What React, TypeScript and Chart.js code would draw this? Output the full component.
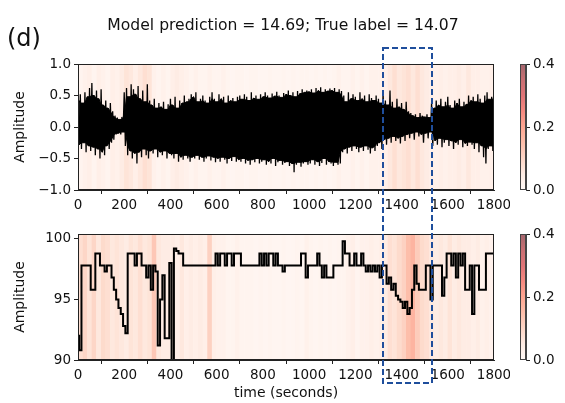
import React, { useEffect, useRef } from "react";
import { Chart, registerables } from "chart.js";
Chart.register(...registerables);

const FONT = "'DejaVu Sans', 'Noto Sans', sans-serif";

const titleText = "Model prediction = 14.69; True label = 14.07";
const panelLabel = "(d)";
const yLabel = "Amplitude";
const xLabel = "time (seconds)";

const xTicks = [0, 200, 400, 600, 800, 1000, 1200, 1400, 1600, 1800];
const topYTicks = [-1, -0.5, 0, 0.5, 1];
const bottomYTicks = [90, 95, 100];
const cbTicks = [0, 0.2, 0.4];

const sampleStep = 10; // seconds between samples
const stripeStep = 20; // seconds per attention stripe
const highlightStart = 1320;
const highlightEnd = 1532;

// upper / lower excursions of the raw waveform, every 10 s
const signalUpper = [
  0.45, 0.52, 0.38, 0.55, 0.48, 0.62, 0.70, 0.50, 0.58, 0.45,
  0.60, 0.35, 0.42, 0.30, 0.38, 0.25, 0.18, 0.15, 0.12, 0.16,
  0.55, 0.62, 0.48, 0.68, 0.60, 0.52, 0.65, 0.45, 0.58, 0.40,
  0.68, 0.42, 0.35, 0.45, 0.30, 0.38, 0.32, 0.40, 0.28, 0.36,
  0.45, 0.35, 0.48, 0.30, 0.42, 0.38, 0.50, 0.40, 0.45, 0.52,
  0.48, 0.55, 0.40, 0.45, 0.50, 0.42, 0.38, 0.48, 0.55, 0.45,
  0.40, 0.52, 0.45, 0.48, 0.38, 0.50, 0.42, 0.46, 0.40, 0.48,
  0.50, 0.44, 0.52, 0.48, 0.42, 0.55, 0.46, 0.50, 0.44, 0.52,
  0.48, 0.55, 0.50, 0.46, 0.53, 0.49, 0.56, 0.50, 0.47, 0.54,
  0.52, 0.58, 0.50, 0.55, 0.48, 0.57, 0.53, 0.60, 0.55, 0.58,
  0.56, 0.60, 0.54, 0.62, 0.58, 0.63, 0.55, 0.60, 0.57, 0.61,
  0.58, 0.62, 0.55, 0.60, 0.57, 0.50, 0.40, 0.55, 0.45, 0.52,
  0.48, 0.42, 0.55, 0.45, 0.50, 0.40, 0.52, 0.46, 0.42, 0.50,
  0.45, 0.38, 0.55, 0.42, 0.35, 0.58, 0.40, 0.30, 0.45, 0.32,
  0.38, 0.28, 0.40, 0.25, 0.22, 0.18, 0.20, 0.15, 0.22, 0.18,
  0.16, 0.20, 0.15, 0.38, 0.30, 0.42, 0.35, 0.45, 0.32, 0.40,
  0.48, 0.35, 0.30, 0.42, 0.38, 0.45, 0.32, 0.40, 0.36, 0.50,
  0.42, 0.48, 0.40, 0.52, 0.45, 0.38, 0.50, 0.55, 0.44, 0.48,
  0.45,
];
const signalLower = [
  -0.28, -0.35, -0.25, -0.40, -0.30, -0.38, -0.32, -0.45, -0.35, -0.50,
  -0.40, -0.45, -0.30, -0.35, -0.25, -0.20, -0.12, -0.10, -0.12, -0.08,
  -0.30, -0.45, -0.38, -0.50, -0.42, -0.58, -0.40, -0.48, -0.35, -0.45,
  -0.50, -0.38, -0.42, -0.35, -0.48, -0.40, -0.45, -0.38, -0.50, -0.42,
  -0.45, -0.50, -0.42, -0.55, -0.48, -0.52, -0.45, -0.50, -0.55, -0.48,
  -0.50, -0.45, -0.52, -0.48, -0.55, -0.50, -0.46, -0.53, -0.48, -0.56,
  -0.50, -0.55, -0.48, -0.52, -0.58, -0.50, -0.54, -0.47, -0.55, -0.52,
  -0.55, -0.50, -0.58, -0.53, -0.60, -0.52, -0.56, -0.50, -0.58, -0.55,
  -0.52, -0.60, -0.55, -0.58, -0.50, -0.62, -0.56, -0.53, -0.60, -0.57,
  -0.55, -0.62, -0.58, -0.72, -0.60, -0.56, -0.63, -0.58, -0.55, -0.60,
  -0.58, -0.52, -0.60, -0.55, -0.62, -0.57, -0.50, -0.60, -0.55, -0.58,
  -0.62, -0.56, -0.60, -0.58, -0.40, -0.35, -0.42, -0.32, -0.38, -0.30,
  -0.35, -0.40, -0.32, -0.38, -0.30, -0.36, -0.42, -0.33, -0.38, -0.30,
  -0.25, -0.35, -0.20, -0.28, -0.18, -0.25, -0.15, -0.22, -0.18, -0.26,
  -0.15, -0.22, -0.12, -0.18, -0.10, -0.20, -0.08, -0.15, -0.12, -0.25,
  -0.10, -0.18, -0.08, -0.30, -0.22, -0.28, -0.18, -0.32, -0.25, -0.20,
  -0.30, -0.22, -0.35, -0.25, -0.28, -0.20, -0.32, -0.26, -0.30, -0.24,
  -0.28, -0.35, -0.25, -0.40, -0.30, -0.48, -0.58, -0.35, -0.30, -0.38,
  -0.30,
];

// lower panel signal, every 10 s
const spo2 = [
  92.0, 90.8, 97.8, 97.8, 97.8, 97.8, 95.8, 95.8, 98.8, 98.8,
  97.8, 97.8, 97.3, 97.8, 97.8, 96.8, 95.8, 95.0, 94.3, 93.8,
  92.8, 92.2, 98.8, 98.8, 98.8, 97.8, 98.8, 98.8, 97.8, 97.8,
  96.8, 97.8, 95.8, 97.8, 97.3, 91.2, 95.0, 97.0, 91.8, 91.8,
  98.0, 90.0, 99.2, 99.0, 98.8, 98.8, 97.8, 97.8, 97.8, 97.8,
  97.8, 97.8, 97.8, 97.8, 97.8, 97.8, 97.8, 97.8, 97.8, 97.8,
  98.8, 97.8, 98.8, 98.8, 97.8, 98.8, 98.8, 97.8, 98.8, 98.8,
  98.8, 97.8, 97.8, 97.8, 97.8, 97.8, 97.8, 97.8, 97.8, 98.8,
  97.8, 98.8, 97.8, 98.8, 98.8, 97.8, 98.8, 97.8, 97.8, 97.3,
  97.8, 97.8, 97.8, 97.8, 97.8, 97.8, 97.8, 98.8, 98.8, 96.8,
  97.8, 97.8, 97.8, 97.8, 98.8, 97.8, 96.8, 97.8, 96.8, 96.8,
  96.8, 97.8, 97.8, 97.8, 97.8, 99.8, 98.8, 98.8, 97.8, 97.8,
  98.8, 97.8, 97.8, 98.8, 97.8, 97.3, 97.8, 97.3, 97.8, 97.3,
  97.8, 96.8, 97.8, 97.8, 96.3, 96.8, 95.8, 96.3, 95.3, 95.0,
  94.8, 94.3, 94.8, 93.8, 94.3, 95.8, 97.8, 96.3, 95.8, 95.8,
  95.8, 97.8, 97.8, 95.0, 97.8, 97.8, 97.8, 97.8, 95.3, 96.8,
  98.8, 98.8, 97.8, 98.8, 96.8, 98.8, 97.8, 98.8, 95.8, 95.8,
  97.8, 93.8, 97.8, 97.8, 95.8, 95.8, 95.8, 98.8, 98.8, 98.8,
  98.8,
];

// attention weights, one per 20 s stripe
const attnTop = [
  0.02, 0.03, 0.04, 0.02, 0.04, 0.03, 0.02, 0.04, 0.03, 0.05,
  0.07, 0.06, 0.04, 0.06, 0.08, 0.07, 0.03, 0.02, 0.03, 0.02,
  0.04, 0.05, 0.04, 0.03, 0.02, 0.03, 0.02, 0.02, 0.03, 0.02,
  0.02, 0.03, 0.02, 0.015, 0.02, 0.02, 0.015, 0.02, 0.02, 0.015,
  0.015, 0.02, 0.015, 0.015, 0.02, 0.015, 0.02, 0.015, 0.02, 0.02,
  0.015, 0.02, 0.015, 0.02, 0.015, 0.02, 0.03, 0.02, 0.02, 0.03,
  0.02, 0.03, 0.02, 0.03, 0.03, 0.03, 0.04, 0.06, 0.08, 0.06,
  0.07, 0.08, 0.06, 0.08, 0.06, 0.05, 0.04, 0.03, 0.04, 0.03,
  0.04, 0.04, 0.05, 0.04, 0.06, 0.04, 0.04, 0.03, 0.03, 0.04,
];
const attnBottom = [
  0.08, 0.10, 0.07, 0.10, 0.06, 0.09, 0.08, 0.06, 0.07, 0.06,
  0.05, 0.07, 0.06, 0.08, 0.06, 0.07, 0.13, 0.06, 0.05, 0.05,
  0.05, 0.04, 0.06, 0.04, 0.05, 0.04, 0.05, 0.04, 0.11, 0.04,
  0.03, 0.03, 0.02, 0.02, 0.03, 0.02, 0.02, 0.02, 0.015, 0.02,
  0.015, 0.02, 0.015, 0.015, 0.02, 0.015, 0.015, 0.02, 0.015, 0.03,
  0.02, 0.015, 0.02, 0.015, 0.02, 0.015, 0.02, 0.02, 0.03, 0.04,
  0.02, 0.03, 0.03, 0.04, 0.03, 0.04, 0.05, 0.08, 0.07, 0.09,
  0.11, 0.15, 0.17, 0.12, 0.09, 0.08, 0.06, 0.05, 0.06, 0.05,
  0.07, 0.05, 0.06, 0.05, 0.05, 0.04, 0.05, 0.03, 0.04, 0.03,
];

// ---- colour map (matplotlib "Reds", drawn with alpha over white) ----
const REDS = [
  [255, 245, 240], [254, 224, 210], [252, 187, 161], [252, 146, 114],
  [251, 106, 74], [239, 59, 44], [203, 24, 29], [165, 15, 21], [103, 0, 13],
];
const CMAP_ALPHA = 0.6;
const CMAP_MAX = 0.4;
function cmap(v: number): string {
  const f = Math.max(0, Math.min(1, v / CMAP_MAX)) * 8;
  const i = Math.min(7, Math.floor(f));
  const t = f - i;
  const c = REDS[i].map((a, k) => a + (REDS[i + 1][k] - a) * t);
  const b = c.map((x) => Math.round(255 * (1 - CMAP_ALPHA) + x * CMAP_ALPHA));
  return `rgb(${b[0]},${b[1]},${b[2]})`;
}

const TXT = "#111";
const AX = "#222";

function framePlugin(color: string) {
  return {
    id: "frame",
    afterDraw(chart: any) {
      const { ctx, chartArea: a } = chart;
      ctx.save();
      ctx.strokeStyle = color;
      ctx.lineWidth = 1;
      ctx.strokeRect(Math.round(a.left) + 0.5, Math.round(a.top) + 0.5, Math.round(a.right - a.left) - 1, Math.round(a.bottom - a.top) - 1);
      ctx.restore();
    },
  };
}

const headerPlugin = {
  id: "header",
  afterDraw(chart: any) {
    const ctx = chart.ctx;
    ctx.save();
    ctx.fillStyle = TXT;
    ctx.textBaseline = "alphabetic";
    ctx.textAlign = "center";
    ctx.font = `15.6px ${FONT}`;
    ctx.fillText(titleText, 283, 30);
    ctx.textAlign = "left";
    ctx.font = `24px ${FONT}`;
    ctx.fillText(panelLabel, 7, 46);
    ctx.restore();
  },
};

function stripes(attn: number[], lo: number, hi: number) {
  return {
    type: "bar",
    order: 3,
    data: attn.map((a, i) => ({ x: i * stripeStep + stripeStep / 2, y: [lo, hi] })),
    backgroundColor: attn.map(cmap),
    borderWidth: 0,
    barPercentage: 1.08,
    categoryPercentage: 1,
    grouped: false,
  };
}

function mainOptions(o: {
  yMin: number; yMax: number; yTicks: number[]; yFmt: (v: number) => string;
  padTop: number; xHeight: number; showXTitle: boolean;
}) {
  return {
    responsive: false,
    animation: false,
    events: [],
    layout: { padding: { left: 0, right: 16, top: o.padTop, bottom: 0 } },
    plugins: { legend: { display: false }, tooltip: { enabled: false }, title: { display: false } },
    scales: {
      x: {
        type: "linear",
        min: 0,
        max: 1800,
        offset: false,
        afterBuildTicks: (s: any) => { s.ticks = xTicks.map((v) => ({ value: v })); },
        afterFit: (s: any) => { s.height = o.xHeight; s.paddingLeft = 0; s.paddingRight = 0; },
        grid: { display: true, drawOnChartArea: false, drawTicks: true, tickLength: 4, color: AX },
        border: { display: true, color: AX },
        ticks: { font: { family: FONT, size: 13.5 }, color: TXT, padding: 3, maxRotation: 0, autoSkip: false, callback: (v: any) => String(v) },
        title: o.showXTitle
          ? { display: true, text: xLabel, font: { family: FONT, size: 14 }, color: TXT, padding: { top: 0, bottom: 1 } }
          : { display: false },
      },
      y: {
        type: "linear",
        min: o.yMin,
        max: o.yMax,
        afterBuildTicks: (s: any) => { s.ticks = o.yTicks.map((v) => ({ value: v })); },
        afterFit: (s: any) => { s.width = 78; s.paddingTop = 0; s.paddingBottom = 0; },
        grid: { display: true, drawOnChartArea: false, drawTicks: true, tickLength: 4, color: AX },
        border: { display: true, color: AX },
        ticks: { font: { family: FONT, size: 13.5 }, color: TXT, padding: 3, autoSkip: false, callback: (v: any) => o.yFmt(Number(v)) },
        title: { display: true, text: yLabel, font: { family: FONT, size: 14 }, color: TXT, padding: { top: 12, bottom: 0 } },
      },
    },
  };
}

function colorbarConfig(padTop: number, padBottom: number) {
  return {
    type: "bar",
    data: {
      labels: ["cb"],
      datasets: [
        {
          data: [[cbTicks[0], cbTicks[cbTicks.length - 1]]],
          backgroundColor: (c: any) => {
            const chart = c.chart;
            const a = chart.chartArea;
            if (!a) return "#fff";
            const g = chart.ctx.createLinearGradient(0, a.bottom, 0, a.top);
            for (let k = 0; k <= 16; k++) g.addColorStop(k / 16, cmap((k / 16) * CMAP_MAX));
            return g;
          },
          borderWidth: 0,
          barPercentage: 1,
          categoryPercentage: 1,
        },
      ],
    },
    options: {
      responsive: false,
      animation: false,
      events: [],
      layout: { padding: { left: 15, right: 0, top: padTop, bottom: padBottom } },
      plugins: { legend: { display: false }, tooltip: { enabled: false } },
      scales: {
        x: { display: false },
        y: {
          position: "right",
          min: cbTicks[0],
          max: cbTicks[cbTicks.length - 1],
          afterBuildTicks: (s: any) => { s.ticks = cbTicks.map((v) => ({ value: v })); },
          afterFit: (s: any) => { s.width = 39; s.paddingTop = 0; s.paddingBottom = 0; },
          grid: { display: true, drawOnChartArea: false, drawTicks: true, tickLength: 4, color: AX },
          border: { display: true, color: "#444" },
          ticks: { font: { family: FONT, size: 13.5 }, color: TXT, padding: 3, callback: (v: any) => Number(v).toFixed(1) },
        },
      },
    },
    plugins: [framePlugin("#444")],
  };
}

export default function App() {
  const topRef = useRef<HTMLCanvasElement>(null);
  const botRef = useRef<HTMLCanvasElement>(null);
  const cbTopRef = useRef<HTMLCanvasElement>(null);
  const cbBotRef = useRef<HTMLCanvasElement>(null);
  const ovRef = useRef<HTMLCanvasElement>(null);

  useEffect(() => {
    // zig-zag through every read excursion (gives the thin spikes)
    const zigzag: { x: number; y: number }[] = [];
    signalUpper.forEach((u, i) => {
      zigzag.push({ x: i * sampleStep, y: u });
      zigzag.push({ x: i * sampleStep + sampleStep / 2, y: signalLower[i] });
    });
    // dense core: the smaller excursion among neighbouring samples
    const n = signalUpper.length;
    const coreUpper = signalUpper.map((u, i) => ({
      x: i * sampleStep,
      y: Math.min(u, signalUpper[Math.max(0, i - 1)], signalUpper[Math.min(n - 1, i + 1)]),
    }));
    const coreLower = signalLower.map((l, i) => ({
      x: i * sampleStep + sampleStep / 2,
      y: Math.max(l, signalLower[Math.max(0, i - 1)], signalLower[Math.min(n - 1, i + 1)]),
    }));
    const botLine = spo2.map((v, i) => ({ x: i * sampleStep, y: v }));

    const minusFmt = (v: number) => v.toFixed(1).replace("-", "\u2212");

    const top = new Chart(topRef.current as any, {
      type: "line",
      data: {
        datasets: [
          { type: "line", order: 0, data: zigzag, borderColor: "#000", borderWidth: 1.3, pointRadius: 0, tension: 0, fill: false } as any,
          { type: "line", order: 1, data: coreUpper, borderColor: "#000", borderWidth: 1, pointRadius: 0, tension: 0, fill: "+1", backgroundColor: "#000" } as any,
          { type: "line", order: 2, data: coreLower, borderColor: "#000", borderWidth: 1, pointRadius: 0, tension: 0, fill: false } as any,
          stripes(attnTop, topYTicks[0], topYTicks[topYTicks.length - 1]) as any,
        ],
      },
      options: mainOptions({ yMin: -1, yMax: 1, yTicks: topYTicks, yFmt: minusFmt, padTop: 64, xHeight: 25, showXTitle: false }) as any,
      plugins: [framePlugin(AX), headerPlugin],
    });

    const bot = new Chart(botRef.current as any, {
      type: "line",
      data: {
        datasets: [
          { type: "line", order: 0, data: botLine, borderColor: "#000", borderWidth: 2, pointRadius: 0, tension: 0, stepped: "middle" } as any,
          stripes(attnBottom, 90, 100.4) as any,
        ],
      },
      options: mainOptions({ yMin: 90, yMax: 100.4, yTicks: bottomYTicks, yFmt: (v) => String(v), padTop: 19, xHeight: 43, showXTitle: true }) as any,
      plugins: [framePlugin(AX)],
    });

    const cbTop = new Chart(cbTopRef.current as any, colorbarConfig(64, 25) as any);
    const cbBot = new Chart(cbBotRef.current as any, colorbarConfig(19, 43) as any);

    // dashed highlight box spanning both panels
    const ov = ovRef.current!;
    const octx = ov.getContext("2d")!;
    octx.clearRect(0, 0, ov.width, ov.height);
    const xs = bot.scales.x;
    const x1 = Math.round(xs.getPixelForValue(highlightStart));
    const x2 = Math.round(xs.getPixelForValue(highlightEnd));
    octx.save();
    octx.strokeStyle = "#1f4e9c";
    octx.lineWidth = 2;
    octx.setLineDash([6, 3]);
    octx.strokeRect(x1, 48, x2 - x1, 383 - 48);
    octx.restore();

    return () => {
      top.destroy();
      bot.destroy();
      cbTop.destroy();
      cbBot.destroy();
    };
  }, []);

  const abs = (l: number, t: number, w: number, h: number): React.CSSProperties => ({
    position: "absolute", left: l, top: t, width: w, height: h,
  });

  return (
    <div style={{ position: "absolute", left: 0, top: 0, width: 565, height: 403, background: "#fff" }}>
      <canvas ref={topRef} width={510} height={215} style={abs(0, 0, 510, 215)} />
      <canvas ref={botRef} width={510} height={188} style={abs(0, 215, 510, 188)} />
      <canvas ref={cbTopRef} width={60} height={215} style={abs(505, 0, 60, 215)} />
      <canvas ref={cbBotRef} width={60} height={188} style={abs(505, 215, 60, 188)} />
      <canvas ref={ovRef} width={565} height={403} style={{ ...abs(0, 0, 565, 403), pointerEvents: "none" }} />
    </div>
  );
}
